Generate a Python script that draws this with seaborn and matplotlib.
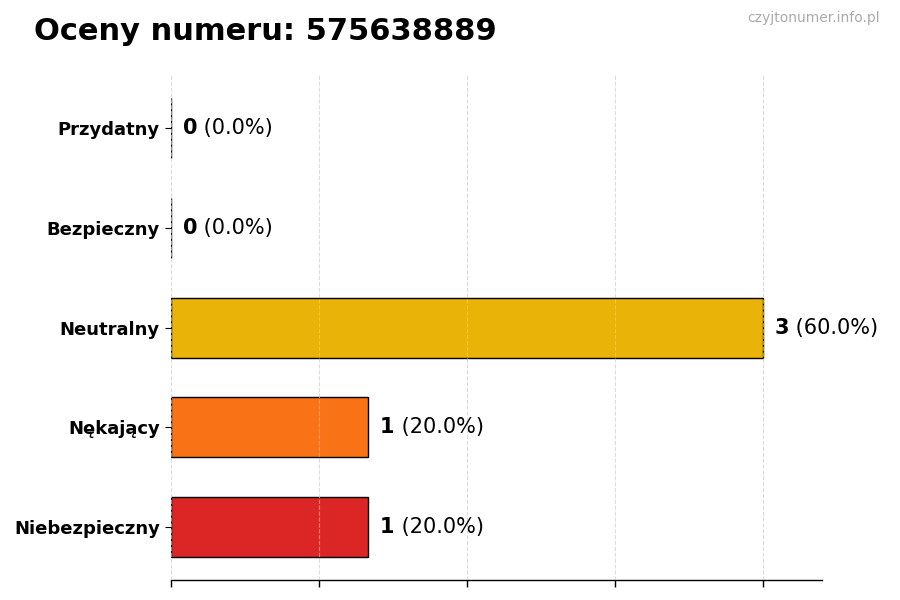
import matplotlib
matplotlib.use("Agg")
import matplotlib.pyplot as plt
import seaborn as sns
import pandas as pd

categories = ["Przydatny", "Bezpieczny", "Neutralny", "Nękający", "Niebezpieczny"]
counts = [0, 0, 3, 1, 1]
percents = [0.0, 0.0, 60.0, 20.0, 20.0]
colors = ["#16a34a", "#22c55e", "#eab308", "#f97316", "#dc2626"]
title = "Oceny numeru: 575638889"
watermark = "czyjtonumer.info.pl"

sns.set_theme(style="white")
plt.rcParams["font.family"] = ["DejaVu Sans"]
plt.rcParams["text.color"] = "black"

df = pd.DataFrame({"cat": categories, "count": counts})

fig = plt.figure(figsize=(9, 6), dpi=100)
ax = fig.add_axes([0.19, 0.033, 0.723, 0.842])

sns.barplot(data=df, x="count", y="cat", hue="cat", palette=colors, order=categories,
            hue_order=categories, orient="h", width=0.6, edgecolor="black",
            linewidth=1.0, legend=False, ax=ax, saturation=1)

ax.set_xlim(0, 3.3)
ax.set_ylim(4.53, -0.53)
ax.set_xticks([0, 0.75, 1.5, 2.25, 3.0])
ax.set_xticklabels([])
ax.set_xlabel("")
ax.set_ylabel("")
ax.xaxis.grid(True, linestyle="--", color="#cccccc", linewidth=0.8, alpha=0.7)
ax.set_axisbelow(False)
for s in ["top", "right", "left"]:
    ax.spines[s].set_visible(False)
ax.spines["bottom"].set_color("black")
ax.spines["bottom"].set_linewidth(1.0)
ax.tick_params(axis="x", bottom=True, length=5, width=1, color="black")
ax.tick_params(axis="y", left=True, length=4, width=0.8, color="black", pad=4)
for lbl in ax.get_yticklabels():
    lbl.set_fontweight("bold")
    lbl.set_fontsize(13)
    lbl.set_color("black")

offset = 0.06
for i, (c, pct) in enumerate(zip(counts, percents)):
    t1 = ax.text(c + offset, i, f"{c}", fontsize=15, fontweight="bold",
                 va="center", ha="left", color="black")
    ax.annotate(f" ({pct:.1f}%)", xy=(1, 0.5), xycoords=t1, fontsize=15,
                va="center", ha="left", color="black")

fig.text(0.038, 0.948, title, fontsize=22, fontweight="bold", ha="left", va="center",
         color="black")
fig.text(0.978, 0.97, watermark, fontsize=10, color="#aaaaaa", ha="right", va="center")

fig.savefig("out.png", dpi=100)
